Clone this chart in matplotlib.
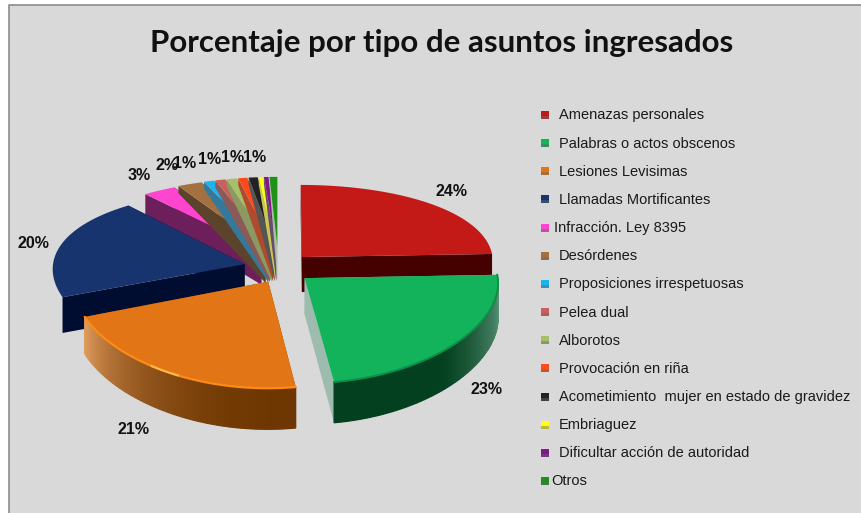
import matplotlib as mpl
mpl.use('Agg')
import matplotlib.pyplot as plt
from matplotlib.colors import to_rgb
import numpy as np

titulo = 'Porcentaje por tipo de asuntos ingresados'
categorias = ['Amenazas personales', 'Palabras o actos obscenos', 'Lesiones Levisimas',
              'Llamadas Mortificantes', 'Infracción. Ley 8395', 'Desórdenes',
              'Proposiciones irrespetuosas', 'Pelea dual', 'Alborotos', 'Provocación en riña',
              'Acometimiento  mujer en estado de gravidez', 'Embriaguez',
              'Dificultar acción de autoridad', 'Otros']
valores = [24.4, 23.4, 21.2, 20.0, 3.0, 2.2, 0.9, 0.9, 0.9, 0.8, 0.8, 0.4, 0.4, 0.7]
etiquetas = ['24%', '23%', '21%', '20%', '3%', '2%', '1%', '1%', '1%', '1%']
colores = ['#c41a17', '#12b35a', '#e27516', '#17346e', '#ff45cf', '#a5703f', '#1ab4f0',
           '#c9605c', '#a8bf6a', '#ff4a1c', '#222222', '#ffff10', '#80178a', '#1f9018']
# color de la pared lateral (arco exterior y bordes rectos)
paredes = ['#450000', '#9dbcae', '#7a3f05', '#000c30', '#6d1f5c', '#5c442c', '#35799a',
           '#8a5a58', '#8a9a60', '#b04a2c', '#555555', '#c8c850', '#6a4a70', '#a8c0a0']

# geometria del pastel (pixeles de la imagen)
cx, cy = 278, 268
rx, ry = 192, 86
persp_x, persp_y = 0.05, 0.15
alto = 34
explode_grande = 0.18
explode_chico = 0.26


def proyectar(u, v, z=0):
    sx = 1 / (1 + persp_x * v)
    sy = 1 / (1 + persp_y * v)
    return cx + rx * u * sx, cy - ry * v * sy + alto * z * sy


def mezcla(c1, c2, t):
    a, b = np.array(to_rgb(c1)), np.array(to_rgb(c2))
    return tuple(a + (b - a) * t)


fig = plt.figure(figsize=(8.62, 5.13), dpi=100, facecolor='white')
ax = fig.add_axes([0, 0, 1, 1])
ax.set_xlim(0, 862)
ax.set_ylim(513, 0)
ax.axis('off')

# fondo y borde
ax.fill([9.5, 862, 862, 9.5], [5, 5, 513, 513], color='#d9d9d9', lw=0, zorder=0)
ax.plot([9.5, 9.5, 862], [513, 5, 5], color='#8c8c8c', lw=1.2, zorder=1)

# angulos de cada porcion, en sentido horario desde arriba
total = sum(valores)
limites = np.cumsum([0] + valores) / total * 2 * np.pi

# orden de dibujo: las pequenas atras, luego las grandes
orden = list(range(4, 14)) + [3, 0, 2, 1]
z = 2
for i in orden:
    a0, a1 = limites[i], limites[i + 1]
    m = (a0 + a1) / 2
    if i < 4:
        ou, ov = explode_grande * np.sin(m), explode_grande * np.cos(m)
    else:
        ou, ov = 0.6 * explode_chico * np.sin(m), explode_chico * np.cos(m)
    if i == 2:
        ou += 0.04
    t = np.linspace(a0, a1, max(int((a1 - a0) * 60), 4))
    us, vs = ou + np.sin(t), ov + np.cos(t)

    # paredes rectas: en las chicas la pared se adelgaza hacia afuera
    if i < 4:
        z_fuera = 1
    elif i == 4:
        z_fuera = 0.7
    else:
        z_fuera = 0.25
    for a in (a0, a1):
        px0, py0 = proyectar(ou, ov)
        px1, py1 = proyectar(ou + np.sin(a), ov + np.cos(a))
        px2, py2 = proyectar(ou + np.sin(a), ov + np.cos(a), z_fuera)
        px3, py3 = proyectar(ou, ov, 1.05)
        ax.fill([px0, px1, px2, px3], [py0, py1, py2, py3], color=paredes[i], lw=0, zorder=z)
    z += 1

    # pared exterior con degradado
    if i in (1, 2):
        for k in range(len(t) - 1):
            f = k / (len(t) - 2)
            if i == 1:
                c = mezcla('#6aa488', '#03401f', min(f * 1.7, 1))
            else:
                c = mezcla('#6e3600', '#e09a5c', f ** 2.2)
            x0, y0 = proyectar(us[k], vs[k])
            x1, y1 = proyectar(us[k + 1], vs[k + 1])
            x2, y2 = proyectar(us[k + 1], vs[k + 1], 1)
            x3, y3 = proyectar(us[k], vs[k], 1)
            ax.fill([x0, x1, x2, x3], [y0, y1, y2, y3], color=c, lw=0.8, ec=c, zorder=z)
    z += 1

    # cara superior
    xs, ys = proyectar(np.r_[ou, us], np.r_[ov, vs])
    ax.fill(xs, ys, color=colores[i], lw=0, zorder=z)
    z += 1

    # brillo del borde en la porcion naranja
    if i == 2:
        xb, yb = proyectar(us, vs)
        ax.plot(xb, yb, color='#ff8a14', lw=1.6, zorder=z, solid_capstyle='round')
        n = len(t)
        ax.plot(xb[int(n * .45):int(n * .58)], yb[int(n * .45):int(n * .58)],
                color='#ffb84a', lw=1.5, zorder=z + 1)
    elif i == 1:
        xb, yb = proyectar(us, vs)
        ax.plot(xb, yb, color='#0c8f48', lw=1.4, zorder=z)
    z += 2

# etiquetas de porcentaje
pos_etq = [(452, 192), (487, 389), (134, 429), (33, 243), (139, 176),
           (167, 166), (185, 163), (210, 159), (233, 158), (255, 157)]
for txt, (x, y) in zip(etiquetas, pos_etq):
    ax.text(x, y, txt, ha='center', va='center', fontsize=11.5, fontweight='bold',
            family='Liberation Sans', color='#111111', zorder=200)

# titulo
ax.text(442, 43, titulo, ha='center', va='center', fontsize=22.5, fontweight='bold',
        family='Lato', color='#111111', zorder=200)

# leyenda
sangria = [559, 559, 559, 559, 554, 559, 559, 559, 559, 559, 559, 559, 559, 551]
for i, nombre in enumerate(categorias):
    y = 115 + i * 28.15
    ax.fill([541, 549, 549, 541], [y - 4, y - 4, y + 1, y + 1], color=colores[i], lw=0, zorder=150)
    ax.fill([541, 549, 549, 541], [y + 1, y + 1, y + 4, y + 4],
            color=mezcla(colores[i], '#666666', 0.45), lw=0, zorder=150)
    ax.text(sangria[i], y + 0.5, nombre, ha='left', va='center', fontsize=10.55,
            family='Liberation Sans', color='#1a1a1a', zorder=200)

plt.savefig('out.png', dpi=100)
